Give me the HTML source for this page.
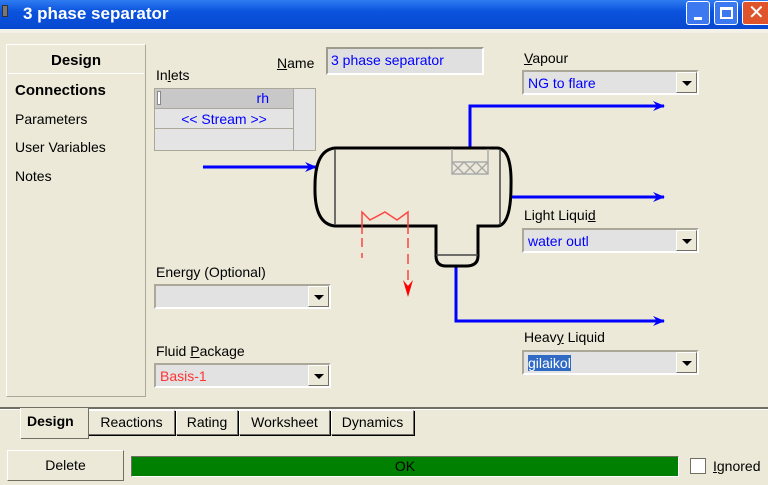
<!DOCTYPE html>
<html><head><style>
*{margin:0;padding:0;box-sizing:border-box}
body{width:768px;height:485px;overflow:hidden;background:#ECE9D8;font-family:"Liberation Sans",sans-serif;font-size:14px;position:relative;color:#000}
.a{position:absolute}
.sunk{border:2px solid;border-color:#9d9a8e #fff #fff #9d9a8e;background:#e0e0e0}
.combo{position:absolute;border:2px solid;border-color:#aca899 #fff #fff #aca899;background:#e2e2e2;color:#00f;padding:2px 4px;height:25px;line-height:18px}
.btn{position:absolute;right:0;top:0;width:21px;height:21px;background:#ECE9D8;border:1px solid;border-color:#fff #716f64 #716f64 #fff}
.btn:after{content:"";position:absolute;left:5px;top:8px;border-left:5px solid transparent;border-right:5px solid transparent;border-top:5px solid #000}
.tab{position:absolute;top:410px;height:25px;border:1px solid #716f64;border-top-color:#fff;border-left-color:#fff;box-shadow:1px 1px 0 #000;padding:3px 0;text-align:center;font-size:14px;background:#ECE9D8}
</style></head><body>
<div class="a" style="left:0;top:0;width:768px;height:29px;background:linear-gradient(#2f7bf0,#0a53dd 40%,#0848d0)"></div>
<div class="a" style="left:2px;top:5px;width:6px;height:12px;background:#777;border:1px solid #333"></div>
<div class="a" style="left:23px;top:4px;color:#fff;font-weight:bold;font-size:17px">3 phase separator</div>
<div class="a" style="left:686px;top:1px;width:24px;height:24px;background:#3c78f0;border:1px solid #fff;border-radius:3px"><div class="a" style="left:7px;top:15px;width:8px;height:3px;background:#fff"></div></div>
<div class="a" style="left:714px;top:1px;width:24px;height:24px;background:#3c78f0;border:1px solid #fff;border-radius:3px"><div class="a" style="left:5px;top:5px;width:13px;height:12px;border:2px solid #fff;border-top-width:3px"></div></div>
<div class="a" style="left:742px;top:1px;width:30px;height:24px;background:#e0542c;border:1px solid #fff;border-radius:3px;color:#fff;font-size:20px;line-height:22px;padding-left:5px">✕</div>
<div class="a" style="left:0;top:29px;width:768px;height:4px;background:#f4f2e8"></div>

<div class="a" style="left:6px;top:44px;width:140px;height:353px;border:1px solid #fff;border-right-color:#aca899;border-bottom-color:#aca899"></div>
<div class="a" style="left:8px;top:46px;width:136px;height:28px;text-align:center;font-weight:bold;font-size:15px;line-height:30px;border-bottom:1px solid #fff">Design</div>
<div class="a" style="left:15px;top:82px;font-weight:bold;font-size:15px">Connections</div>
<div class="a" style="left:15px;top:111px">Parameters</div>
<div class="a" style="left:15px;top:139px">User Variables</div>
<div class="a" style="left:15px;top:168px">Notes</div>

<div class="a" style="left:277px;top:55px"><u>N</u>ame</div>
<div class="a sunk" style="left:326px;top:47px;width:158px;height:28px;color:#00f;padding:3px 3px">3 phase separator</div>
<div class="a" style="left:156px;top:67px">In<u>l</u>ets</div>
<div class="a" style="left:154px;top:88px;width:162px;height:63px;background:#e4e4e4;border:1px solid #aca899"></div>
<div class="a" style="left:155px;top:89px;width:138px;height:20px;background:#c8c8c8;border-bottom:1px solid #aca899;color:#00f;text-align:right;padding-right:24px;line-height:19px">rh</div>
<div class="a" style="left:157px;top:91px;width:4px;height:14px;border:1px solid #888;background:#fff"></div>
<div class="a" style="left:155px;top:110px;width:138px;height:19px;color:#00f;text-align:center;line-height:19px;border-bottom:1px solid #aca899">&lt;&lt; Stream &gt;&gt;</div>
<div class="a" style="left:293px;top:89px;width:1px;height:61px;background:#aca899"></div>

<div class="a" style="left:524px;top:50px"><u>V</u>apour</div>
<div class="combo" style="left:522px;top:70px;width:177px">NG to flare<div class="btn"></div></div>
<div class="a" style="left:524px;top:207px">Light Liqui<u>d</u></div>
<div class="combo" style="left:522px;top:228px;width:177px">water outl<div class="btn"></div></div>
<div class="a" style="left:524px;top:329px">Heav<u>y</u> Liquid</div>
<div class="combo" style="left:522px;top:350px;width:177px"><span style="background:#316ac5;color:#fff">gilaikol</span><div class="btn"></div></div>
<div class="a" style="left:156px;top:264px">Ener<u>g</u>y (Optional)</div>
<div class="combo" style="left:154px;top:284px;width:177px"><div class="btn"></div></div>
<div class="a" style="left:156px;top:343px">Fluid <u>P</u>ackage</div>
<div class="combo" style="left:154px;top:363px;width:177px;color:#f33">Basis-1<div class="btn"></div></div>

<svg class="a" style="left:0;top:0" width="768" height="485">
<defs><marker id="ab" markerWidth="12" markerHeight="10" refX="11" refY="5" orient="auto" markerUnits="userSpaceOnUse"><path d="M0,0 L12,5 L0,10 L4,5z" fill="#00f"/></marker></defs>
<g stroke="#00f" stroke-width="3" fill="none">
<path d="M203 167 H316" marker-end="url(#ab)"/>
<path d="M470 148 V106 H664" marker-end="url(#ab)"/>
<path d="M510 197 H664" marker-end="url(#ab)"/>
<path d="M456 266 V321 H664" marker-end="url(#ab)"/>
</g>
<path d="M335 148 H498 Q512 150 511 186 Q511 224 498 226 H478 V256 Q478 266 466 266 H446 Q436 266 436 256 V226 H335 Q314 224 315 186 Q315 150 335 148Z" fill="none" stroke="#000" stroke-width="3"/>
<g stroke="#444" stroke-width="1.5"><path d="M335 149 V225 M500 149 V225 M436 255 H478"/></g>
<g stroke="#aaa" stroke-width="1.5" fill="none"><path d="M452 149 V174 H488 V149 M452 162 H488 M452 162 L464 174 L476 162 L488 174 M452 174 L464 162 L476 174 L488 162"/></g>
<g stroke="#f44" stroke-width="1.5" fill="none">
<path d="M362 234 V212 L370 220 L385 212 L397 220 L408 212 V234"/>
<path d="M362 238 V258" stroke-dasharray="9 6"/>
<path d="M408 238 V285" stroke-dasharray="10 6"/>
<path d="M403 280 L408 297 L413 280 L408 286z" fill="#f00" stroke="none"/>
</g>
</svg>

<div class="a" style="left:0;top:407px;width:768px;height:2px;background:#716f64"></div>
<div class="a" style="left:0;top:409px;width:768px;height:1px;background:#fff"></div>
<div class="tab" style="left:88px;width:87px">Reactions</div>
<div class="tab" style="left:176px;width:62px">Rating</div>
<div class="tab" style="left:239px;width:91px">Worksheet</div>
<div class="tab" style="left:331px;width:83px">Dynamics</div>
<div class="a" style="left:20px;top:408px;width:68px;height:30px;background:#ECE9D8;border-left:1px solid #fff;box-shadow:1px 1px 0 #716f64;font-weight:bold;padding:5px 6px">Design</div>

<div class="a" style="left:7px;top:450px;width:117px;height:31px;border:1px solid;border-color:#fff #716f64 #716f64 #fff;text-align:center;line-height:29px">Delete</div>
<div class="a" style="left:131px;top:456px;width:548px;height:21px;background:#008000;border:1px solid;border-color:#716f64 #fff #fff #716f64;text-align:center;line-height:19px">OK</div>
<div class="a" style="left:690px;top:458px;width:16px;height:16px;background:#fff;border:1px solid #716f64"></div>
<div class="a" style="left:713px;top:458px"><u>I</u>gnored</div>
</body></html>
